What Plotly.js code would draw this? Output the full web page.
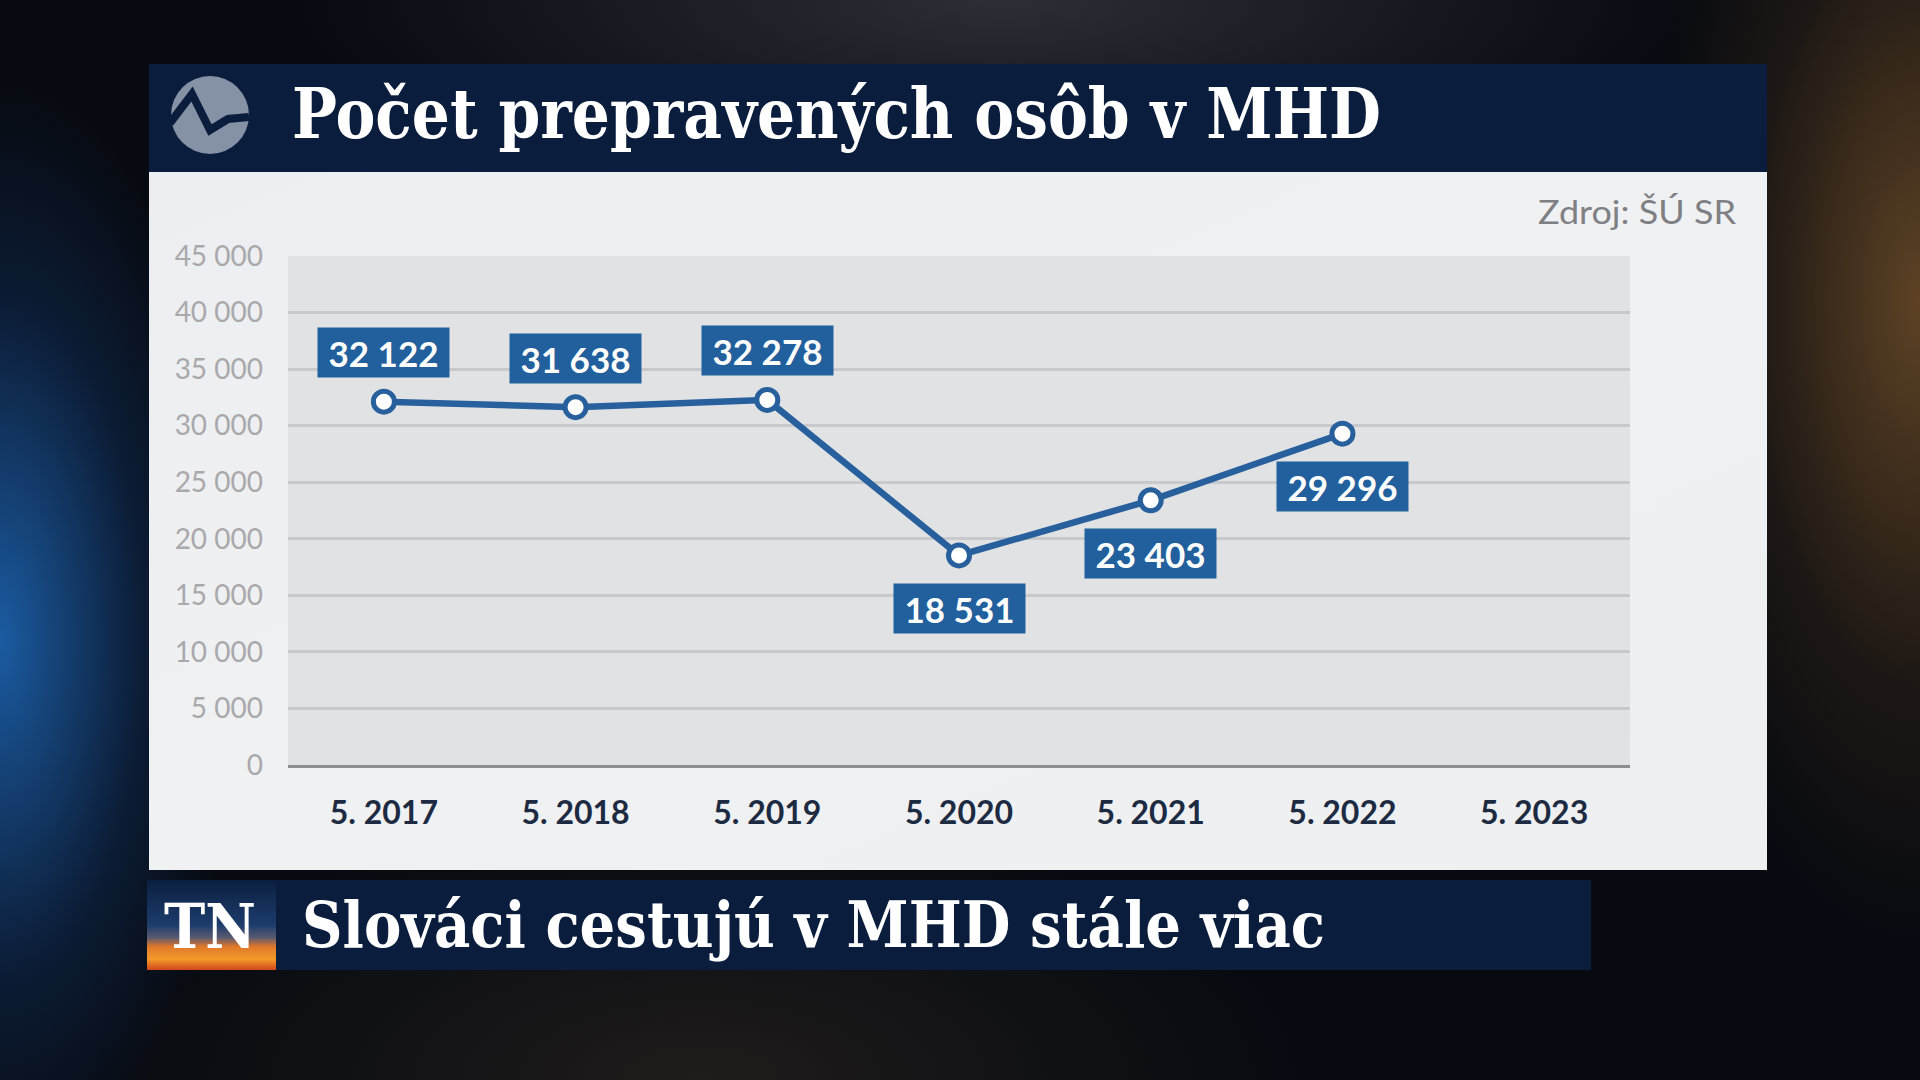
<!DOCTYPE html>
<html>
<head>
<meta charset="utf-8">
<script src="https://cdn.plot.ly/plotly-3.0.1.min.js"></script>
<style>
  html, body { margin:0; padding:0; width:1920px; height:1080px; overflow:hidden; }
  body {
    background:
      radial-gradient(ellipse 240px 560px at 0px 640px, rgba(28,96,170,0.95), rgba(20,60,120,0.35) 60%, rgba(0,0,0,0) 100%),
      radial-gradient(ellipse 280px 640px at 1920px 300px, rgba(130,90,45,0.7), rgba(80,55,30,0.3) 60%, rgba(0,0,0,0) 100%),
      radial-gradient(ellipse 700px 200px at 1000px 0px, rgba(90,90,100,0.45), rgba(0,0,0,0) 100%),
      radial-gradient(ellipse 600px 260px at 700px 1080px, rgba(60,50,40,0.45), rgba(0,0,0,0) 100%),
      #070a10;
  }
  #bg, #chart { position:absolute; left:0; top:0; width:1920px; height:1080px; }
  #bg { z-index:0; }
  #chart { z-index:1; }
</style>
</head>
<body>
<svg id="bg" width="1920" height="1080" xmlns="http://www.w3.org/2000/svg">
  <defs>
    <linearGradient id="tnGrad" x1="0" y1="0" x2="0" y2="1">
      <stop offset="0%" stop-color="#0b1f3f"/>
      <stop offset="50%" stop-color="#1c3c6c"/>
      <stop offset="64%" stop-color="#5a5a70"/>
      <stop offset="74%" stop-color="#e0772a"/>
      <stop offset="88%" stop-color="#f39a2a"/>
      <stop offset="100%" stop-color="#d2461c"/>
    </linearGradient>
    <linearGradient id="panelGrad" x1="0" y1="0" x2="1" y2="1">
      <stop offset="0%" stop-color="#eceef1"/>
      <stop offset="50%" stop-color="#f0f1f3"/>
      <stop offset="100%" stop-color="#eeeff1"/>
    </linearGradient>
  </defs>
  <!-- header bar -->
  <rect x="149" y="64" width="1618" height="108" fill="#0b1d3d"/>
  <!-- light panel -->
  <rect x="149" y="172" width="1618" height="698" fill="url(#panelGrad)"/>
  <!-- bottom banner -->
  <rect x="276" y="880" width="1315" height="90" fill="#0b1d3d"/>
  <rect x="147" y="880" width="129" height="90" fill="url(#tnGrad)"/>
  <!-- logo -->
  <circle cx="210" cy="115" r="39" fill="#8591a5"/>
  <polyline points="170,123 192,94 210,130 228,119 249,117" fill="none" stroke="#0b1d3d" stroke-width="8" stroke-linejoin="miter"/>
  <!-- texts -->
  <text x="292" y="138" font-family="DejaVu Serif" font-weight="bold" font-size="69" fill="#ffffff"
        textLength="1089" lengthAdjust="spacingAndGlyphs">Počet prepravených osôb v MHD</text>
  <text x="1736" y="224" text-anchor="end" font-family="Lato" font-size="33" fill="#7f8083"
        textLength="198" lengthAdjust="spacingAndGlyphs">Zdroj: ŠÚ SR</text>
  <text x="164" y="948" font-family="DejaVu Serif" font-weight="bold" font-size="62" fill="#ffffff"
        textLength="92" lengthAdjust="spacingAndGlyphs">TN</text>
  <text x="302" y="947" font-family="DejaVu Serif" font-weight="bold" font-size="64" fill="#ffffff"
        textLength="1023" lengthAdjust="spacingAndGlyphs">Slováci cestujú v MHD stále viac</text>
</svg>
<div id="chart"></div>
<script>
// ---- data ----
const categories = ["5. 2017", "5. 2018", "5. 2019", "5. 2020", "5. 2021", "5. 2022", "5. 2023"];
const passengers = [32122, 31638, 32278, 18531, 23403, 29296];
const yTickValues = [0, 5000, 10000, 15000, 20000, 25000, 30000, 35000, 40000, 45000];
const labelAbove = [true, true, true, false, false, false];

function fmt(v) {
  return String(v).replace(/\B(?=(\d{3})+(?!\d))/g, " ");
}

const lineColor = "#27609c";
const boxColor = "#21609c";

const trace = {
  type: "scatter",
  mode: "lines+markers",
  x: categories.slice(0, passengers.length),
  y: passengers,
  line: { color: lineColor, width: 6.5 },
  marker: { size: 21, color: "#ffffff", line: { color: lineColor, width: 5 } },
  cliponaxis: false,
  hoverinfo: "skip"
};

const annotations = passengers.map((v, i) => ({
  x: categories[i],
  y: v,
  xref: "x",
  yref: "y",
  text: fmt(v),
  showarrow: false,
  xanchor: "center",
  yanchor: "middle",
  yshift: labelAbove[i] ? 49 : -53,
  bgcolor: boxColor,
  width: 125,
  height: 43,
  borderpad: 3,
  font: { family: "Lato", size: 35, color: "#ffffff", weight: 700 }
}));

const layout = {
  width: 1920,
  height: 1080,
  margin: { l: 288, r: 290, t: 256, b: 315, pad: 0 },
  paper_bgcolor: "rgba(0,0,0,0)",
  plot_bgcolor: "#e1e2e4",
  showlegend: false,
  separators: ", ",
  xaxis: {
    type: "category",
    categoryorder: "array",
    categoryarray: categories,
    range: [-0.5, categories.length - 0.5],
    showgrid: false,
    zeroline: false,
    showline: true,
    linecolor: "#8d8e92",
    linewidth: 3,
    ticks: "",
    ticklabelstandoff: 18,
    tickfont: { family: "Lato", size: 32, color: "#1d2b42", weight: 700 },
    fixedrange: true
  },
  yaxis: {
    range: [0, 45000],
    tickmode: "array",
    tickvals: yTickValues,
    ticktext: yTickValues.map(fmt),
    showgrid: false,
    zeroline: false,
    showline: false,
    ticks: "",
    ticklabelstandoff: 24,
    tickfont: { family: "Lato", size: 28, color: "#a9a9ac" },
    minor: {
      tickmode: "array",
      tickvals: yTickValues.filter(v => v > 0 && v < 45000),
      showgrid: true,
      gridcolor: "#c8c9cc",
      gridwidth: 3,
      ticks: ""
    },
    fixedrange: true
  },
  annotations: annotations
};

Plotly.newPlot("chart", [trace], layout, { displayModeBar: false, staticPlot: true });
</script>
</body>
</html>
